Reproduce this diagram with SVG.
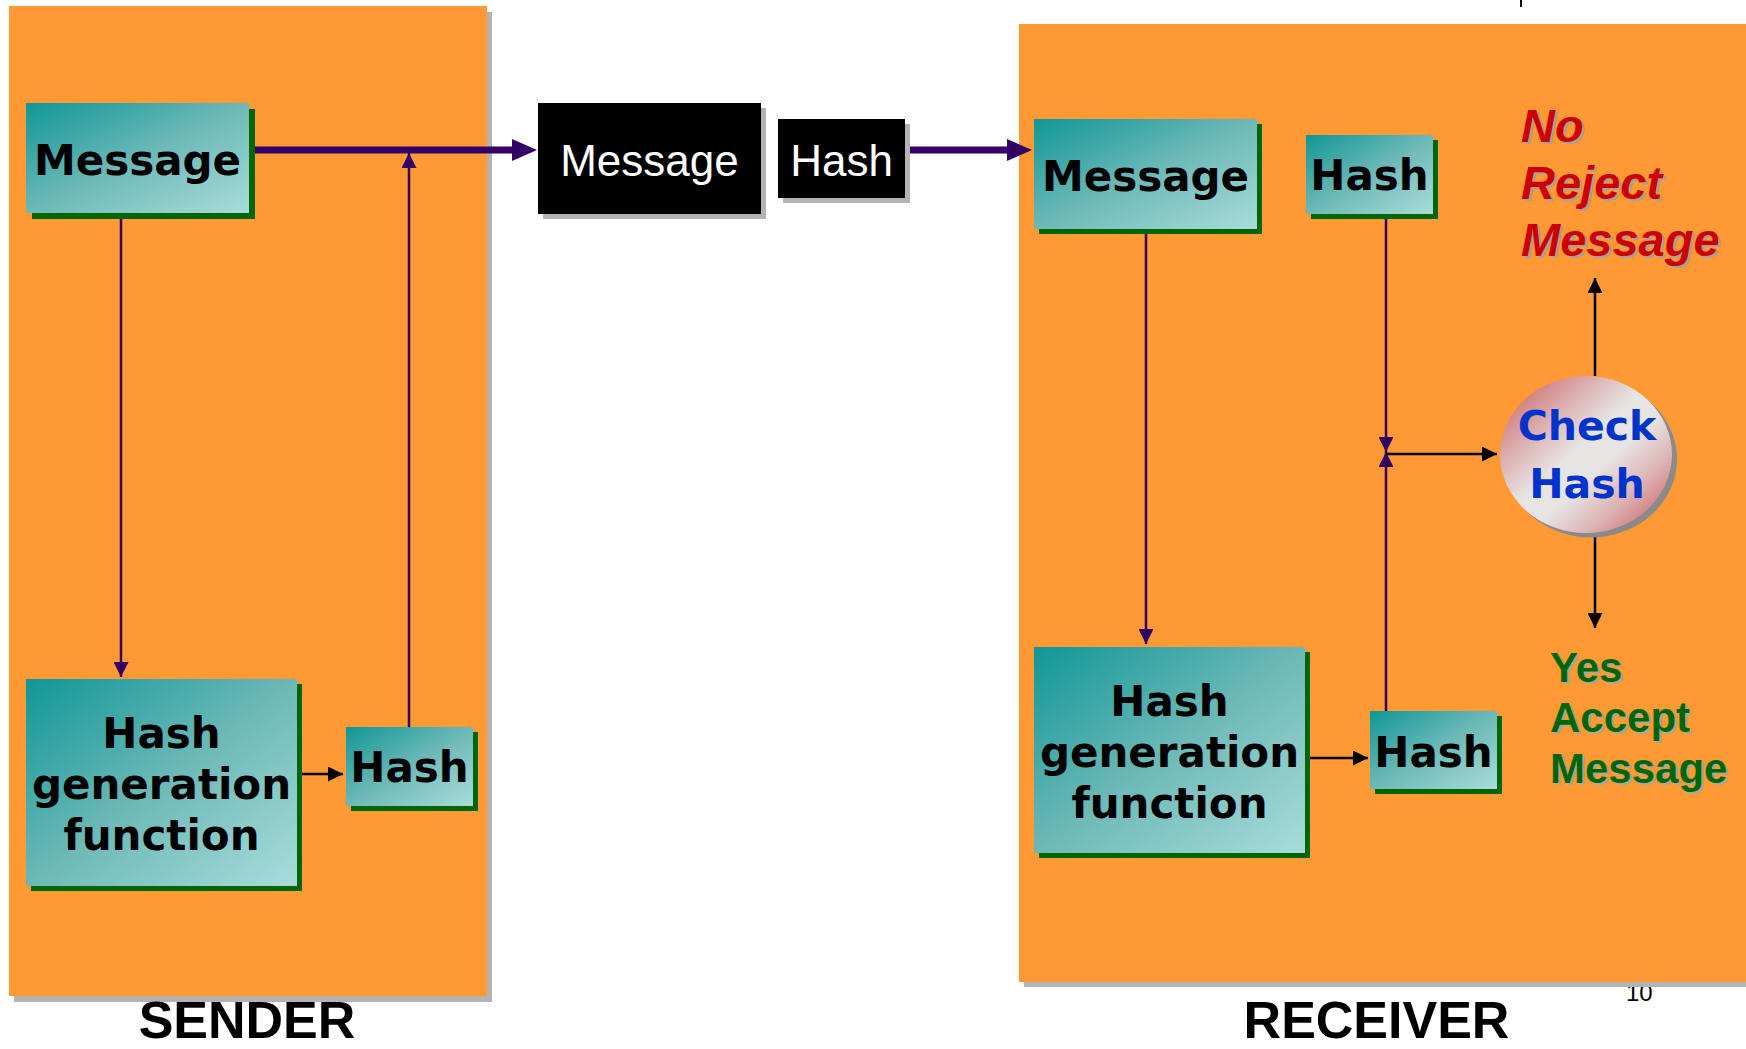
<svg xmlns="http://www.w3.org/2000/svg" width="1746" height="1049" viewBox="0 0 1746 1049">
<style>
.panel{fill:#ff9933}
.pshadow{fill:#b3b3b3}
.box{fill:url(#teal)}
.bshadow{fill:#006600}
.btxt{font-family:"DejaVu Sans",Verdana,sans-serif;font-weight:bold;font-size:42px;fill:#000;text-anchor:middle}
.wtxt{font-family:"Liberation Sans",Arial,sans-serif;font-size:44px;fill:#fff;text-anchor:middle}
.lbl{font-family:"Liberation Sans",Arial,sans-serif;font-weight:bold;font-size:52px;fill:#000;text-anchor:middle}
.red{font-family:"Liberation Sans",Arial,sans-serif;font-weight:bold;font-style:italic;font-size:47px}
.grn{font-family:"Liberation Sans",Arial,sans-serif;font-weight:bold;font-size:42px}
.chk{font-family:"Comic Sans MS","DejaVu Sans",sans-serif;font-weight:bold;font-size:41px;fill:#0033cc;text-anchor:middle}
.pl{stroke:#330066;stroke-width:2.5;fill:none}
.bl{stroke:#000;stroke-width:2.5;fill:none}
.thick{stroke:#330066;stroke-width:7;fill:none}
</style>
<defs>
<linearGradient id="teal" x1="0" y1="0" x2="1" y2="1">
<stop offset="0" stop-color="#0f9797"/>
<stop offset="0.5" stop-color="#6cb9b7"/>
<stop offset="1" stop-color="#a9dcdc"/>
</linearGradient>
<linearGradient id="ball" x1="0.08" y1="0.08" x2="0.92" y2="0.92">
<stop offset="0" stop-color="#cf6f6f"/>
<stop offset="0.25" stop-color="#ddb3b3"/>
<stop offset="0.45" stop-color="#e7e4e4"/>
<stop offset="0.6" stop-color="#e7e4e4"/>
<stop offset="0.8" stop-color="#ddb3b3"/>
<stop offset="1" stop-color="#cf6f6f"/>
</linearGradient>
<marker id="ap" viewBox="0 0 15 15" refX="15" refY="7.5" markerWidth="15" markerHeight="15" markerUnits="userSpaceOnUse" orient="auto">
<path d="M0,0 L15,7.5 L0,15 z" fill="#330066"/>
</marker>
<marker id="ab" viewBox="0 0 15 15" refX="15" refY="7.5" markerWidth="15" markerHeight="15" markerUnits="userSpaceOnUse" orient="auto">
<path d="M0,0 L15,7.5 L0,15 z" fill="#000"/>
</marker>
<marker id="at" viewBox="0 0 25 22" refX="1" refY="11" markerWidth="25" markerHeight="22" markerUnits="userSpaceOnUse" orient="auto">
<path d="M0,0 L25,11 L0,22 z" fill="#330066"/>
</marker>
</defs>
<rect width="1746" height="1049" fill="#fff"/>
<text x="1626" y="1001" font-family="Liberation Sans,Arial,sans-serif" font-size="24">10</text>
<line x1="1521" y1="0" x2="1521" y2="7" stroke="#000" stroke-width="2"/>

<g id="sender-panel">
<rect class="pshadow" x="14" y="12" width="478" height="990"/>
<rect class="panel" x="9" y="6" width="478" height="990"/>
</g>
<g id="receiver-panel">
<rect class="pshadow" x="1024" y="29" width="730" height="958"/>
<rect class="panel" x="1019" y="24" width="730" height="958"/>
</g>

<g id="connectors">
<line class="thick" x1="249" y1="150" x2="513" y2="150" marker-end="url(#at)"/>
<line class="thick" x1="905" y1="150" x2="1008" y2="150" marker-end="url(#at)"/>
<line class="pl" x1="121" y1="214" x2="121" y2="677" marker-end="url(#ap)"/>
<line class="pl" x1="409" y1="727" x2="409" y2="153" marker-end="url(#ap)"/>
<line class="bl" x1="297" y1="774" x2="343" y2="774" marker-end="url(#ab)"/>
<line class="pl" x1="1146" y1="230" x2="1146" y2="644" marker-end="url(#ap)"/>
<line class="pl" x1="1386" y1="214" x2="1386" y2="452" marker-end="url(#ap)"/>
<line class="pl" x1="1386" y1="711" x2="1386" y2="452" marker-end="url(#ap)"/>
<line class="bl" x1="1386" y1="454" x2="1497" y2="454" marker-end="url(#ab)"/>
<line class="bl" x1="1305" y1="758" x2="1368" y2="758" marker-end="url(#ab)"/>
<line class="bl" x1="1595" y1="376" x2="1595" y2="278" marker-end="url(#ab)"/>
<line class="bl" x1="1595" y1="533" x2="1595" y2="628" marker-end="url(#ab)"/>
</g>

<g id="s-message">
<rect class="bshadow" x="32" y="109" width="223" height="110"/>
<rect class="box" x="26" y="103" width="223" height="110"/>
<text class="btxt" x="137.5" y="175">Message</text>
</g>
<g id="s-hashgen">
<rect class="bshadow" x="31" y="684" width="271" height="207"/>
<rect class="box" x="26" y="679" width="271" height="207"/>
<text class="btxt" x="161.5" y="748">Hash</text>
<text class="btxt" x="161.5" y="799">generation</text>
<text class="btxt" x="161.5" y="850">function</text>
</g>
<g id="s-hash">
<rect class="bshadow" x="351" y="732" width="127" height="79"/>
<rect class="box" x="346" y="727" width="127" height="79"/>
<text class="btxt" x="409.5" y="782">Hash</text>
</g>

<g id="t-message">
<rect fill="#b3b3b3" x="543" y="108" width="223" height="111"/>
<rect fill="#000" x="538" y="103" width="223" height="111"/>
<text class="wtxt" x="649.5" y="176">Message</text>
</g>
<g id="t-hash">
<rect fill="#b3b3b3" x="783" y="124" width="127" height="79"/>
<rect fill="#000" x="778" y="119" width="127" height="79"/>
<text class="wtxt" x="841.5" y="176">Hash</text>
</g>

<g id="r-message">
<rect class="bshadow" x="1039" y="124" width="223" height="110"/>
<rect class="box" x="1034" y="119" width="223" height="110"/>
<text class="btxt" x="1145.5" y="191">Message</text>
</g>
<g id="r-hash-top">
<rect class="bshadow" x="1311" y="140" width="127" height="79"/>
<rect class="box" x="1306" y="135" width="127" height="79"/>
<text class="btxt" x="1369.5" y="190">Hash</text>
</g>
<g id="r-hashgen">
<rect class="bshadow" x="1039" y="652" width="271" height="206"/>
<rect class="box" x="1034" y="647" width="271" height="206"/>
<text class="btxt" x="1169.5" y="716">Hash</text>
<text class="btxt" x="1169.5" y="767">generation</text>
<text class="btxt" x="1169.5" y="818">function</text>
</g>
<g id="r-hash-bottom">
<rect class="bshadow" x="1375" y="716" width="127" height="78"/>
<rect class="box" x="1370" y="711" width="127" height="78"/>
<text class="btxt" x="1433.5" y="767">Hash</text>
</g>

<g id="check-hash">
<ellipse cx="1591" cy="459" rx="86" ry="78.5" fill="#8a8a8a"/>
<ellipse cx="1586" cy="454.5" rx="86" ry="78.5" fill="url(#ball)"/>
<text class="chk" x="1587" y="440">Check</text>
<text class="chk" x="1587" y="498">Hash</text>
</g>

<g id="reject">
<g class="red" fill="#a8a0a0" transform="translate(2,2)">
<text x="1521" y="142">No</text>
<text x="1521" y="199">Reject</text>
<text x="1521" y="256">Message</text>
</g>
<g class="red" fill="#cc0000">
<text x="1521" y="142">No</text>
<text x="1521" y="199">Reject</text>
<text x="1521" y="256">Message</text>
</g>
</g>
<g id="accept">
<g class="grn" fill="#a8a8a0" transform="translate(2,2)">
<text x="1550" y="682">Yes</text>
<text x="1550" y="732">Accept</text>
<text x="1550" y="783">Message</text>
</g>
<g class="grn" fill="#006600">
<text x="1550" y="682">Yes</text>
<text x="1550" y="732">Accept</text>
<text x="1550" y="783">Message</text>
</g>
</g>

<text class="lbl" x="247" y="1038">SENDER</text>
<text class="lbl" x="1376.5" y="1038">RECEIVER</text>
</svg>
